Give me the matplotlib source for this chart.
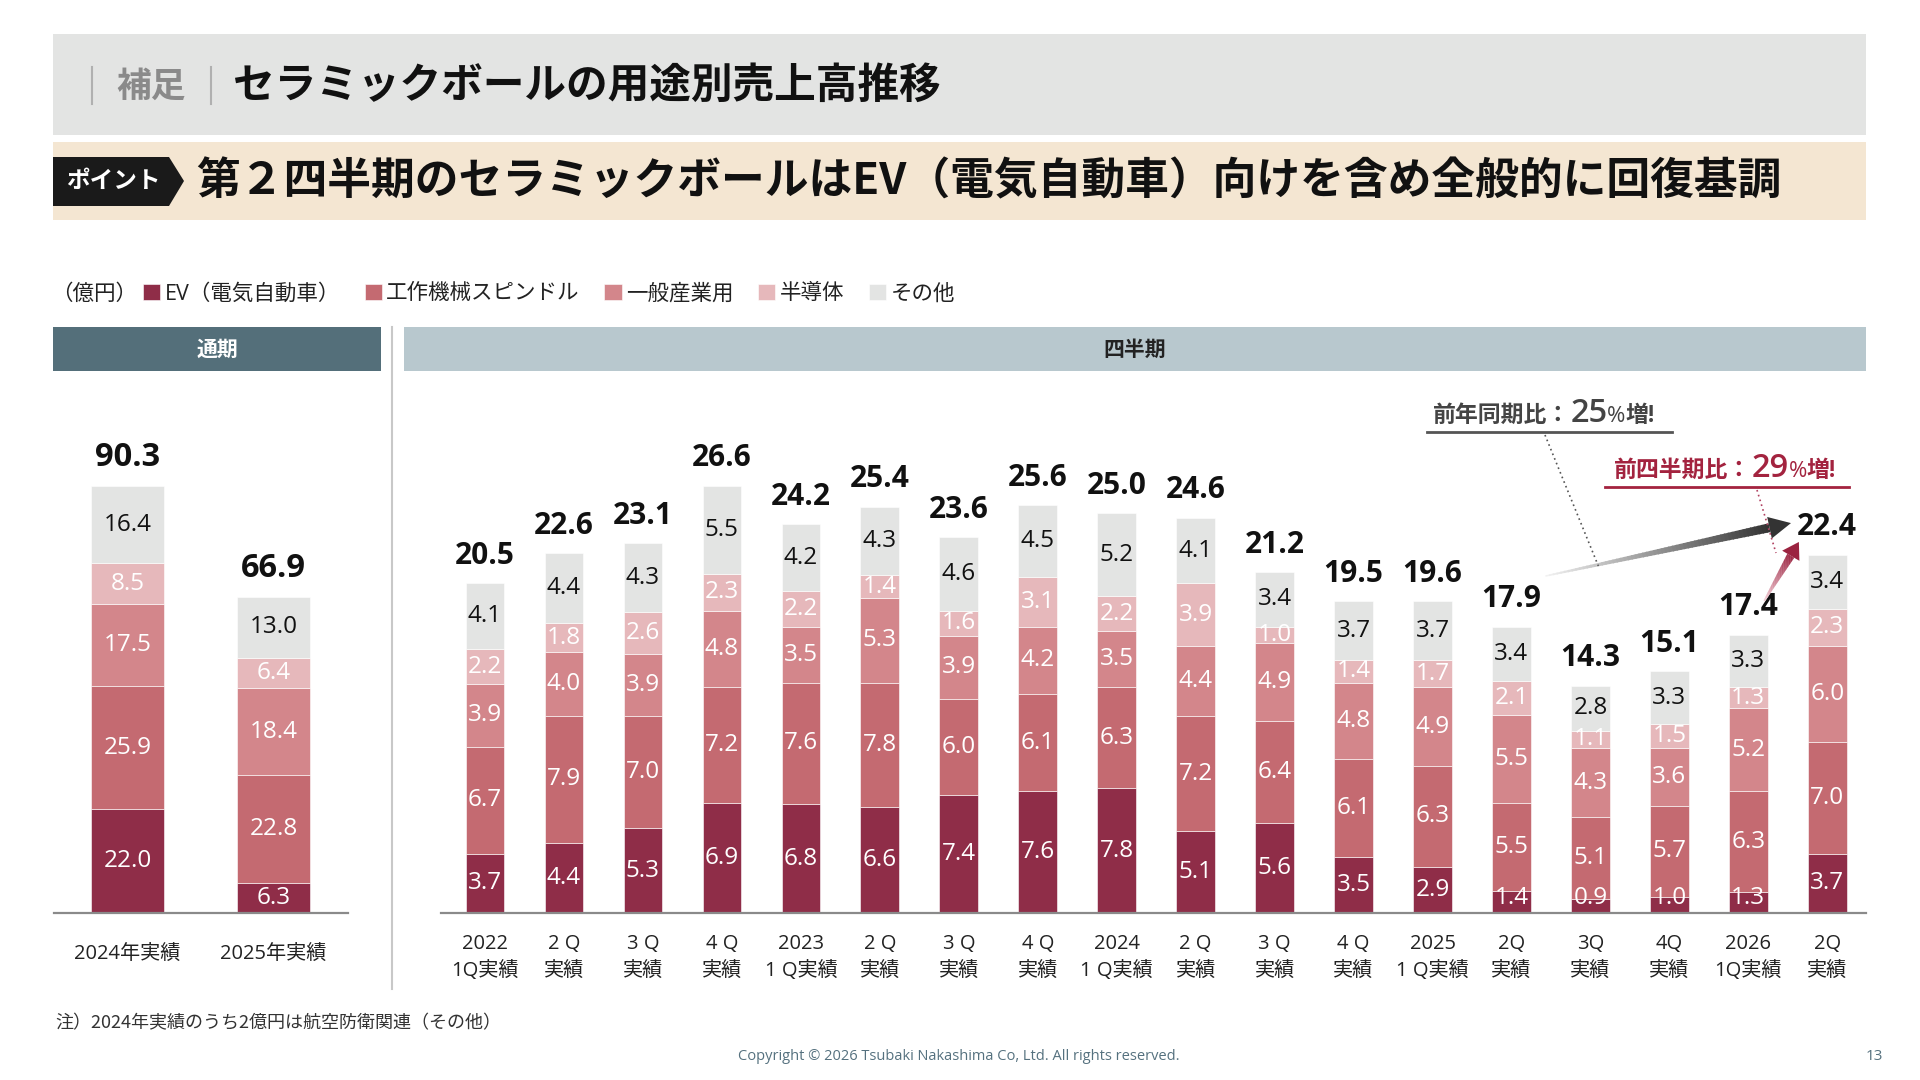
import numpy as np
import matplotlib.pyplot as plt
import matplotlib.colors as mcolors
from matplotlib.patches import Rectangle, Polygon
from matplotlib.lines import Line2D
from matplotlib.transforms import IdentityTransform

plt.rcParams['font.family'] = ['Open Sans', 'Noto Sans CJK JP', 'DejaVu Sans']
CJK = ['Noto Sans CJK JP', 'DejaVu Sans']

# ---- data (億円) ----
series = ['EV（電気自動車）', '工作機械スピンドル', '一般産業用', '半導体', 'その他']
colors = ['#8f2d48', '#c46a71', '#d3868b', '#e6b8bb', '#e3e4e3']
label_colors = ['white', 'white', 'white', 'white', '#111111']

year_labels = ['2024年実績', '2025年実績']
year_ev = [22.0, 6.3]
year_spindle = [25.9, 22.8]
year_general = [17.5, 18.4]
year_semi = [8.5, 6.4]
year_other = [16.4, 13.0]
year_total = [90.3, 66.9]

q_labels = ['2022\n1Q実績', '2 Q\n実績', '3 Q\n実績', '4 Q\n実績',
            '2023\n1 Q実績', '2 Q\n実績', '3 Q\n実績', '4 Q\n実績',
            '2024\n1 Q実績', '2 Q\n実績', '3 Q\n実績', '4 Q\n実績',
            '2025\n1 Q実績', '2Q\n実績', '3Q\n実績', '4Q\n実績',
            '2026\n1Q実績', '2Q\n実績']
q_ev = [3.7, 4.4, 5.3, 6.9, 6.8, 6.6, 7.4, 7.6, 7.8, 5.1, 5.6, 3.5, 2.9, 1.4, 0.9, 1.0, 1.3, 3.7]
q_spindle = [6.7, 7.9, 7.0, 7.2, 7.6, 7.8, 6.0, 6.1, 6.3, 7.2, 6.4, 6.1, 6.3, 5.5, 5.1, 5.7, 6.3, 7.0]
q_general = [3.9, 4.0, 3.9, 4.8, 3.5, 5.3, 3.9, 4.2, 3.5, 4.4, 4.9, 4.8, 4.9, 5.5, 4.3, 3.6, 5.2, 6.0]
q_semi = [2.2, 1.8, 2.6, 2.3, 2.2, 1.4, 1.6, 3.1, 2.2, 3.9, 1.0, 1.4, 1.7, 2.1, 1.1, 1.5, 1.3, 2.3]
q_other = [4.1, 4.4, 4.3, 5.5, 4.2, 4.3, 4.6, 4.5, 5.2, 4.1, 3.4, 3.7, 3.7, 3.4, 2.8, 3.3, 3.3, 3.4]
q_total = [20.5, 22.6, 23.1, 26.6, 24.2, 25.4, 23.6, 25.6, 25.0, 24.6, 21.2, 19.5, 19.6, 17.9, 14.3, 15.1, 17.4, 22.4]

W, H = 1920, 1080
fig = plt.figure(figsize=(19.2, 10.8), dpi=100)
fig.patch.set_facecolor('white')

# background layer in pixel coords (y down)
bg = fig.add_axes([0, 0, 1, 1])
bg.set_xlim(0, W)
bg.set_ylim(H, 0)
bg.axis('off')

# title band
bg.add_patch(Rectangle((53, 34), 1813, 101, color='#e3e4e3', lw=0))
for xx in (92, 211):
    bg.plot([xx, xx], [67, 104], color='#b0b0b0', lw=1.5)
bg.text(116, 86, '補足', fontsize=25, fontweight='bold', color='#8a8a8a', va='center', family=CJK)
bg.text(233, 86, 'セラミックボールの用途別売上高推移', fontsize=30, fontweight='bold',
        color='#111111', va='center', family=CJK)

# point band
bg.add_patch(Rectangle((53, 142), 1813, 78, color='#f4e6d2', lw=0))
bg.add_patch(Polygon([(53, 157), (169, 157), (184, 181), (169, 206), (53, 206)],
                     closed=True, color='#1a1a1a', lw=0))
bg.text(113, 181, 'ポイント', fontsize=17, fontweight='bold', color='white',
        ha='center', va='center', family=CJK)
bg.text(196, 181, '第２四半期のセラミックボールはEV（電気自動車）向けを含め全般的に回復基調',
        fontsize=31.5, fontweight='bold', color='#111111', va='center', family=CJK)

# legend prefix
bg.text(51, 294, '（億円）', fontsize=15.5, color='#222222', va='center', family=CJK)

# section headers
bg.add_patch(Rectangle((53, 327), 328, 44, color='#546f7a', lw=0))
bg.text(217, 349, '通期', fontsize=15, fontweight='bold', color='white', ha='center', va='center',
        family=CJK)
bg.add_patch(Rectangle((404, 327), 1462, 44, color='#b8c8ce', lw=0))
bg.text(1135, 349, '四半期', fontsize=15, fontweight='bold', color='#222222', ha='center',
        va='center', family=CJK)
bg.plot([392, 392], [327, 989], color='#c8c8c8', lw=1.5)

# footer
bg.text(55, 1023, '注）2024年実績のうち2億円は航空防衛関連（その他）', fontsize=13,
        color='#333333', va='center', family=CJK)
bg.text(959, 1057, 'Copyright © 2026 Tsubaki Nakashima Co, Ltd. All rights reserved.',
        fontsize=10.5, color='#55717f', ha='center', va='center')
bg.text(1874, 1057, '13', fontsize=11, color='#55717f', ha='center', va='center')

base_px, top_px = 913, 400
ax_b = (H - base_px) / H
ax_h = (base_px - top_px) / H

ax1 = fig.add_axes([54 / W, ax_b, (348 - 54) / W, ax_h])
ax2 = fig.add_axes([441 / W, ax_b, (1866 - 441) / W, ax_h])
ax1.set_ylim(0, (base_px - top_px) / 4.73)
ax1.set_xlim(-0.503, 1.51)
ax2.set_ylim(0, (base_px - top_px) / 16.0)
ax2.set_xlim(-0.558, 17.49)


def stacked(ax, n, parts, totals, width, total_size, min_lab):
    x = np.arange(n)
    bottom = np.zeros(n)
    handles = []
    for vals, col, lc in zip(parts, colors, label_colors):
        vals = np.array(vals)
        b = ax.bar(x, vals, width, bottom=bottom, color=col, edgecolor='white', linewidth=0.4)
        handles.append(b)
        for xi, v, bt in zip(x, vals, bottom):
            y = max(bt + v / 2, bt + min_lab) if bt == 0 else bt + v / 2
            ax.text(xi, y, f'{v:.1f}', ha='center', va='center', fontsize=17.5,
                    fontweight='medium', color=lc)
        bottom = bottom + vals
    for xi, t, top in zip(x, totals, bottom):
        ax.annotate(f'{t:.1f}', (xi, top), xytext=(0, 14), textcoords='offset points',
                    ha='center', va='baseline', fontsize=total_size, fontweight='bold',
                    color='#111111')
    return handles


stacked(ax1, 2, [year_ev, year_spindle, year_general, year_semi, year_other],
        year_total, 0.5, 23.5, 3.2)
handles = stacked(ax2, 18, [q_ev, q_spindle, q_general, q_semi, q_other],
                  q_total, 0.49, 21.5, 0.95)

for ax, labs, pad in ((ax1, year_labels, 22), (ax2, q_labels, 15)):
    ax.set_facecolor('none')
    for s in ('top', 'left', 'right'):
        ax.spines[s].set_visible(False)
    ax.spines['bottom'].set_color('#8a8a8a')
    ax.spines['bottom'].set_linewidth(1.6)
    ax.set_yticks([])
    ax.set_xticks(range(len(labs)))
    ax.set_xticklabels(labs, fontsize=14.5, color='#222222')
    ax.tick_params(axis='x', length=0, pad=pad)
    for lbl in ax.get_xticklabels():
        lbl.set_linespacing(1.5)

fig.legend(handles, series, loc='center left', bbox_to_anchor=(143 / W, 1 - 294 / H),
           ncol=5, frameon=False, fontsize=15.5, handlelength=0.8, handleheight=0.8,
           handletextpad=0.2, columnspacing=1.15, borderpad=0, borderaxespad=0,
           labelcolor='#222222')


# ---- annotations ----
def grad_arrow(ax, p0, p1, c0, c1, w0, w1, head_len, head_w, n=60):
    a = ax.transData.transform(p0)
    b = ax.transData.transform(p1)
    d = b - a
    u = d / np.hypot(*d)
    nrm = np.array([-u[1], u[0]])
    se = b - u * head_len
    cmap = mcolors.LinearSegmentedColormap.from_list('g', [c0, c1])
    ts = np.linspace(0, 1, n + 1)
    for t0, t1 in zip(ts[:-1], ts[1:]):
        q0 = a + (se - a) * t0
        q1 = a + (se - a) * min(t1 + 0.3 / n, 1)
        h0 = (w0 + (w1 - w0) * t0) / 2
        h1 = (w0 + (w1 - w0) * t1) / 2
        fc = cmap((t0 + t1) / 2)
        fig.add_artist(Polygon([q0 + nrm * h0, q1 + nrm * h1, q1 - nrm * h1, q0 - nrm * h0],
                               closed=True, facecolor=fc, edgecolor='none',
                               transform=IdentityTransform()))
    fig.add_artist(Polygon([b, se + nrm * head_w / 2, se - nrm * head_w / 2], closed=True,
                           facecolor=c1, edgecolor='none', transform=IdentityTransform()))
    return a, b


def rich_text(x, y, pieces):
    r = fig.canvas.get_renderer()
    for s, size, col, wt in pieces:
        t = bg.text(x, y, s, fontsize=size, fontweight=wt, color=col, va='baseline')
        x += t.get_window_extent(r).width


grad_arrow(ax2, (13.43, 21.06), (16.54, 24.37), '#f2f2f2', '#333333', 1.5, 9, 22, 22)
grad_arrow(ax2, (16.2, 19.5), (16.64, 23.19), '#f4d0d8', '#9b2340', 1.5, 8, 16, 20)

dark, red = '#444444', '#a3233f'
rich_text(1433, 422, [('前年同期比：', 16.5, dark, 'bold'), ('25', 23.5, dark, 'semibold'),
                      ('%', 16, dark, 'normal'), ('増!', 16.5, dark, 'bold')])
bg.plot([1427, 1672], [432, 432], color='#555555', lw=2)
rich_text(1614, 477, [('前四半期比：', 16.5, red, 'bold'), ('29', 23.5, red, 'semibold'),
                      ('%', 16, red, 'normal'), ('増!', 16.5, red, 'bold')])
bg.plot([1605, 1849], [487, 487], color=red, lw=2)

p_black = ax2.transData.transform((14.1, 21.69))
p_red = ax2.transData.transform((16.35, 22.5))
fig.add_artist(Line2D([1545, p_black[0]], [H - 435, p_black[1]], color='#555555', lw=1.2,
                      ls=(0, (1, 2)), transform=IdentityTransform()))
fig.add_artist(Line2D([1757, p_red[0]], [H - 490, p_red[1]], color='#b04060', lw=1.2,
                      ls=(0, (1, 2)), transform=IdentityTransform()))

fig.savefig('out.png', dpi=100, facecolor='white')
